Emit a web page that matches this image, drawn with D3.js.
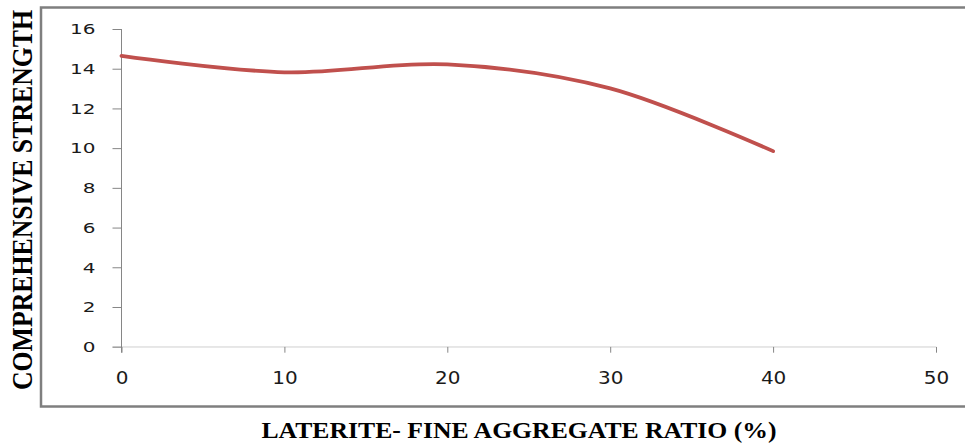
<!DOCTYPE html>
<html>
<head>
<meta charset="utf-8">
<script src="https://cdn.jsdelivr.net/npm/d3@7"></script>
<style>
  html, body { margin: 0; padding: 0; background: #fff; }
  svg { display: block; }
</style>
</head>
<body>
<svg id="chart" width="965" height="444"></svg>
<script>
// Compressive strength against laterite content
const ratios = [0, 10, 20, 30, 40];
const strength = [14.65, 13.82, 14.22, 13.01, 9.85];
const xTicks = [0, 10, 20, 30, 40, 50];
const yTicks = [0, 2, 4, 6, 8, 10, 12, 14, 16];
const xTitle = "LATERITE- FINE AGGREGATE RATIO (%)";
const yTitle = "COMPREHENSIVE STRENGTH";

const svg = d3.select("#chart");
const axisColor = "#868686";

// outer frame around the plot area
svg.append("rect")
  .attr("x", 41).attr("y", 7.5)
  .attr("width", 940).attr("height", 399)
  .attr("fill", "none")
  .attr("stroke", "#7f7f7f")
  .attr("stroke-width", 2.5);

const x = d3.scaleLinear().domain([0, 50]).range([121.5, 936]);
const y = d3.scaleLinear().domain([0, 16]).range([346.7, 29]);

// y axis
const yAxis = svg.append("g")
  .attr("transform", `translate(${x(0)},0)`)
  .call(d3.axisLeft(y).tickValues(yTicks).tickSize(9).tickPadding(0).tickFormat(d3.format("d")));
yAxis.select(".domain").attr("stroke", axisColor).attr("d", `M0,${y(16)}V${y(0) + 6}`);
yAxis.selectAll(".tick line").attr("stroke", axisColor);
yAxis.selectAll(".tick text")
  .attr("x", null).attr("dy", null)
  .attr("font-family", "DejaVu Sans, Verdana, sans-serif")
  .attr("font-size", 20)
  .attr("fill", "#1a1a1a")
  .attr("text-anchor", "end")
  .attr("dominant-baseline", "central")
  .attr("transform", "translate(-26,0) scale(1,0.68)");

// x axis, labels clipped just above the digits' baseline
svg.append("clipPath").attr("id", "xlabClip")
  .append("rect").attr("x", 0).attr("y", 0).attr("width", 965).attr("height", 381.5);

const xAxis = svg.append("g")
  .attr("transform", `translate(0,${y(0)})`)
  .attr("clip-path", "url(#xlabClip)")
  .call(d3.axisBottom(x).tickValues(xTicks).tickSize(6).tickPadding(0).tickFormat(d3.format("d")));
xAxis.select(".domain").attr("stroke", axisColor).attr("d", `M${x(0) - 9},0H${x(50)}`);
xAxis.selectAll(".tick line").attr("stroke", axisColor);
xAxis.selectAll(".tick text")
  .attr("y", null).attr("dy", null)
  .attr("font-family", "DejaVu Sans, Verdana, sans-serif")
  .attr("font-size", 20)
  .attr("fill", "#1a1a1a")
  .attr("text-anchor", "middle")
  .attr("dominant-baseline", "alphabetic")
  .attr("transform", "translate(0,37) scale(1,0.85)");

// smoothed strength curve
const line = d3.line()
  .x((d, i) => x(ratios[i]))
  .y(d => y(d))
  .curve(d3.curveCardinal.tension(0));

svg.append("path")
  .datum(strength)
  .attr("d", line)
  .attr("fill", "none")
  .attr("stroke", "#c0504d")
  .attr("stroke-width", 3.8)
  .attr("stroke-linecap", "round");

// axis titles
svg.append("text")
  .attr("font-family", "Liberation Serif, Times New Roman, serif")
  .attr("font-weight", "bold")
  .attr("font-size", 25.7)
  .attr("fill", "#000")
  .attr("text-anchor", "middle")
  .attr("transform", "translate(519,438) scale(1,0.88)")
  .text(xTitle);

svg.append("text")
  .attr("font-family", "Liberation Serif, Times New Roman, serif")
  .attr("font-weight", "bold")
  .attr("font-size", 29.3)
  .attr("fill", "#000")
  .attr("text-anchor", "middle")
  .attr("transform", "translate(32,200) scale(1,0.88) rotate(-90)")
  .text(yTitle);
</script>
</body>
</html>
